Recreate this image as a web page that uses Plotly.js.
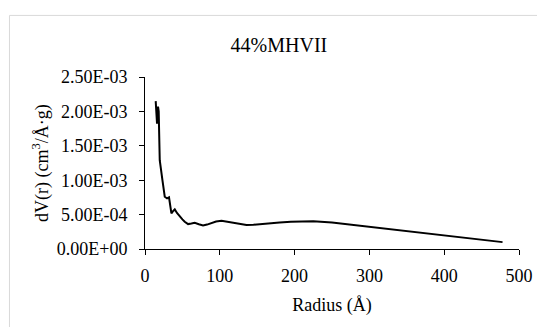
<!DOCTYPE html>
<html>
<head>
<meta charset="utf-8">
<script src="https://cdn.plot.ly/plotly-3.0.1.min.js"></script>
<style>html,body{margin:0;padding:0;background:#fff;}#chart{width:537px;height:327px;}</style>
</head>
<body>
<div id="chart"></div>
<script>
var radius = [14.3, 16.1, 17.4, 18.3, 19.7, 21.5, 23.3, 26.4, 29.5, 32.1, 35.3, 37.5, 39.8, 43, 46.5, 50, 53.1, 57.6, 62, 66.5, 72, 77.6, 83, 88.9, 95, 102.3, 110, 117.8, 126, 135.7, 145, 153.5, 165, 180, 195, 210, 225, 250, 275, 300, 325, 350, 375, 400, 425, 450, 478];
var dV = [0.00215, 0.00182, 0.00207, 0.00200, 0.00129, 0.00112, 0.00100, 0.00076, 0.000735, 0.00075, 0.000517, 0.00055, 0.000575, 0.00052, 0.00047, 0.00043, 0.000396, 0.000362, 0.00037, 0.00038, 0.00036, 0.000343, 0.000355, 0.00038, 0.0004, 0.00041, 0.000395, 0.000372, 0.000356, 0.000348, 0.000352, 0.000362, 0.000374, 0.000386, 0.000397, 0.000402, 0.000402, 0.000385, 0.000355, 0.000323, 0.000294, 0.000265, 0.000234, 0.000203, 0.000172, 0.00014, 0.0001];
var yTickVals = [0, 0.0005, 0.001, 0.0015, 0.002, 0.0025];
var yTickText = ["0.00E+00", "5.00E-04", "1.00E-03", "1.50E-03", "2.00E-03", "2.50E-03"];
var xTickVals = [0, 100, 200, 300, 400, 500];
var chartTitle = "44%MHVII";
var xTitle = "Radius (Å)";
var yTitle = "dV(r) (cm<sup>3</sup>/Å·g)";

var F = "Liberation Serif, Times New Roman, serif";
var trace = {x: radius, y: dV, type: "scatter", mode: "lines",
  line: {color: "#000000", width: 2}, hoverinfo: "skip"};
var layout = {
  width: 537, height: 327,
  margin: {l: 145.3, r: 18.3, t: 76.7, b: 78},
  paper_bgcolor: "#ffffff", plot_bgcolor: "#ffffff",
  showlegend: false,
  font: {family: F, size: 18, color: "#000000"},
  title: {text: chartTitle, font: {family: F, size: 20, color: "#000"},
    x: 0.358, xref: "paper", xanchor: "center", y: 1 - 45/327, yref: "container", yanchor: "middle"},
  xaxis: {range: [0, 500], tickvals: xTickVals, ticks: "outside", ticklen: 5, tickcolor: "#000",
    showline: true, linecolor: "#000", linewidth: 1, showgrid: false, zeroline: false,
    tickfont: {family: F, size: 18}, ticklabelstandoff: 5, fixedrange: true,
    title: {text: xTitle, font: {family: F, size: 18}, standoff: 13}},
  yaxis: {range: [0, 0.0025], tickvals: yTickVals, ticktext: yTickText, ticks: "outside", ticklen: 5, tickcolor: "#000",
    showline: true, linecolor: "#000", linewidth: 1, showgrid: false, zeroline: false,
    tickfont: {family: F, size: 18}, ticklabelstandoff: 8, fixedrange: true,
    title: {text: yTitle, font: {family: F, size: 18}, standoff: 3}},
  shapes: [{type: "rect", xref: "paper", yref: "paper",
    x0: (10 - 145.3) / 373.4, x1: (545 - 145.3) / 373.4,
    y0: (249 - 335) / 172.3, y1: (249 - 15) / 172.3,
    line: {color: "#d9d9d9", width: 1}, fillcolor: "rgba(0,0,0,0)", layer: "below"}]
};
Plotly.newPlot("chart", [trace], layout, {displayModeBar: false, staticPlot: true});
</script>
</body>
</html>
